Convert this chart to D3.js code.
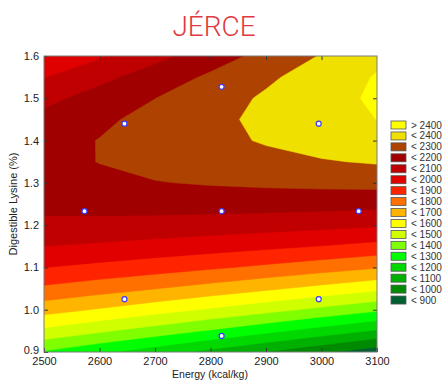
<!DOCTYPE html>
<html>
<head>
<meta charset="utf-8">
<script src="https://cdn.jsdelivr.net/npm/d3@7"></script>
<style>
  body { margin: 0; background: #fff; }
  svg { display: block; }
  .tick text { font-family: "Liberation Sans", Arial, sans-serif; font-size: 11px; fill: #222; }
</style>
</head>
<body>
<div id="chart"></div>
<script>
// grid the surface was read on (energy columns, lysine rows)
const gridEnergy = [2500, 2600, 2700, 2800, 2900, 3000, 3100];
const gridLysine = [0.90, 0.95, 1.00, 1.05, 1.10, 1.15, 1.20, 1.25, 1.30, 1.35, 1.40, 1.45, 1.50, 1.55, 1.60];
// response values, one row per lysine level, one column per energy level
const response = [
  [1290, 1220, 1148, 1073,  998,  921,  842],
  [1476, 1416, 1354, 1291, 1226, 1159, 1090],
  [1640, 1591, 1540, 1487, 1432, 1375, 1317],
  [1781, 1743, 1703, 1661, 1617, 1570, 1522],
  [1901, 1874, 1845, 1814, 1780, 1744, 1707],
  [2000, 1984, 1965, 1944, 1922, 1897, 1869],
  [2076, 2071, 2064, 2054, 2042, 2028, 2011],
  [2130, 2137, 2140, 2142, 2141, 2137, 2132],
  [2162, 2180, 2196, 2208, 2218, 2226, 2231],
  [2173, 2202, 2229, 2253, 2274, 2293, 2309],
  [2162, 2203, 2241, 2276, 2308, 2338, 2365],
  [2128, 2181, 2231, 2277, 2321, 2362, 2401],
  [2073, 2138, 2199, 2257, 2313, 2365, 2415],
  [1996, 2073, 2146, 2216, 2283, 2346, 2407],
  [1897, 1986, 2071, 2152, 2231, 2306, 2379]
];
// design points
const pointEnergy = [2645, 2820, 2995, 2573, 2820, 3067, 2645, 2995, 2820];
const pointLysine = [1.44, 1.527, 1.44, 1.233, 1.233, 1.233, 1.025, 1.025, 0.938];

const levels = [900, 1000, 1100, 1200, 1300, 1400, 1500, 1600, 1700, 1800, 1900, 2000, 2100, 2200, 2300, 2400];
const levelColors = ['#006030', '#008a00', '#00b000', '#00d800', '#00ff00', '#80ff00', '#d0ff00', '#ffff00',
  '#ffb400', '#ff7000', '#ff2400', '#e00000', '#c00000', '#a00000', '#ae4200', '#f0e000', '#ffff00'];
const xTicks = [2500, 2600, 2700, 2800, 2900, 3000, 3100];
const yTicks = [0.9, 1.0, 1.1, 1.2, 1.3, 1.4, 1.5, 1.6];

const W = 444, H = 380;
const plot = { left: 44, right: 377, top: 56, bottom: 352 };

const svg = d3.select('#chart').append('svg').attr('width', W).attr('height', H);

const x = d3.scaleLinear().domain([2500, 3100]).range([plot.left, plot.right]);
const y = d3.scaleLinear().domain([0.9, 1.6]).range([plot.bottom, plot.top]);

svg.append('text')
  .attr('x', 214).attr('y', 36)
  .attr('text-anchor', 'middle')
  .style('font-family', 'Roboto, sans-serif')
  .style('font-weight', 300)
  .style('font-size', '28px')
  .attr('fill', '#e0393e')
  .text('JÉRCE');

svg.append('clipPath').attr('id', 'clip')
  .append('rect')
  .attr('x', plot.left).attr('y', plot.top)
  .attr('width', plot.right - plot.left).attr('height', plot.bottom - plot.top);

const nx = gridEnergy.length, ny = gridLysine.length;
const flat = response.flat();
const dE = gridEnergy[1] - gridEnergy[0];
const dL = gridLysine[1] - gridLysine[0];

// grid coords -> data -> pixels (d3.contours puts value i at i + 0.5)
const toPixels = d3.geoTransform({
  point(gx, gy) {
    this.stream.point(x(gridEnergy[0] + (gx - 0.5) * dE), y(gridLysine[0] + (gy - 0.5) * dL));
  }
});
const path = d3.geoPath(toPixels);

const g = svg.append('g').attr('clip-path', 'url(#clip)');

g.append('rect')
  .attr('x', plot.left).attr('y', plot.top)
  .attr('width', plot.right - plot.left).attr('height', plot.bottom - plot.top)
  .attr('fill', levelColors[0]);

const bands = d3.contours().size([nx, ny]).thresholds(levels)(flat);

g.selectAll('path.band')
  .data(bands)
  .enter().append('path')
  .attr('class', 'band')
  .attr('d', path)
  .attr('fill', (d, i) => levelColors[i + 1])
  .attr('stroke', (d, i) => levelColors[i + 1])
  .attr('stroke-width', 0.5);

// axes with inward ticks
svg.append('g')
  .attr('transform', `translate(0,${plot.bottom})`)
  .call(d3.axisBottom(x).tickValues(xTicks).tickSize(-4).tickPadding(5).tickFormat(d3.format('d')))
  .call(a => a.select('.domain').remove())
  .call(a => a.selectAll('.tick line').attr('stroke', '#333'));

svg.append('g')
  .attr('transform', `translate(0,${plot.top})`)
  .call(d3.axisTop(x).tickValues(xTicks.slice(1, -1)).tickSize(-4).tickFormat(''))
  .call(a => a.select('.domain').remove())
  .call(a => a.selectAll('.tick line').attr('stroke', '#333'));

svg.append('g')
  .attr('transform', `translate(${plot.left},0)`)
  .call(d3.axisLeft(y).tickValues(yTicks).tickSize(-4).tickPadding(5).tickFormat(d3.format('.1f')))
  .call(a => a.select('.domain').remove())
  .call(a => a.selectAll('.tick line').attr('stroke', '#333'))
  // lift the bottom label a little so it clears "2500"
  .call(a => a.selectAll('.tick text').filter(d => d === yTicks[0]).attr('y', -2.5));

svg.append('g')
  .attr('transform', `translate(${plot.right},0)`)
  .call(d3.axisRight(y).tickValues(yTicks.slice(1, -1)).tickSize(-4).tickFormat(''))
  .call(a => a.select('.domain').remove())
  .call(a => a.selectAll('.tick line').attr('stroke', '#333'));

svg.append('rect')
  .attr('x', plot.left).attr('y', plot.top)
  .attr('width', plot.right - plot.left).attr('height', plot.bottom - plot.top)
  .attr('fill', 'none')
  .attr('stroke', '#7a7a7a')
  .attr('stroke-width', 1);

svg.selectAll('.pt')
  .data(pointEnergy)
  .enter().append('circle')
  .attr('class', 'pt')
  .attr('cx', d => x(d))
  .attr('cy', (d, i) => y(pointLysine[i]))
  .attr('r', 2.5)
  .attr('fill', '#fff')
  .attr('stroke', '#3a3aff')
  .attr('stroke-width', 1.2);

const labelFont = '"Liberation Sans", Arial, sans-serif';

svg.append('text')
  .attr('transform', `translate(17,${(plot.top + plot.bottom) / 2}) rotate(-90)`)
  .attr('text-anchor', 'middle')
  .style('font-family', labelFont)
  .style('font-size', '11px')
  .attr('fill', '#222')
  .text('Digestible Lysine (%)');

svg.append('text')
  .attr('x', 210).attr('y', 378)
  .attr('text-anchor', 'middle')
  .style('font-family', labelFont)
  .style('font-size', '10.5px')
  .attr('fill', '#222')
  .text('Energy (kcal/kg)');

// legend, highest band first
const legendItems = levelColors.map((c, i) => ({
  color: c,
  label: i === levelColors.length - 1 ? '> ' + levels[levels.length - 1] : '< ' + levels[i]
})).reverse();

const legend = svg.append('g').attr('transform', 'translate(391,121)');
const item = legend.selectAll('g')
  .data(legendItems)
  .enter().append('g')
  .attr('transform', (d, i) => `translate(0,${i * 10.94})`);

item.append('rect')
  .attr('width', 15).attr('height', 8)
  .attr('fill', d => d.color)
  .attr('stroke', '#555')
  .attr('stroke-width', 0.8);

item.append('text')
  .attr('x', 20).attr('y', 7.5)
  .style('font-family', labelFont)
  .style('font-size', '10px')
  .attr('fill', '#333')
  .text(d => d.label);
</script>
</body>
</html>
